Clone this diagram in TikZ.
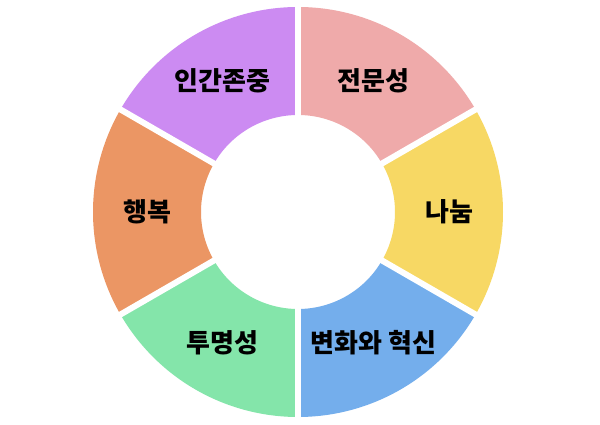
\documentclass[tikz,border=0pt]{standalone}
\usepackage{fontspec}
\newfontfamily\kr{Noto Sans CJK KR}
\definecolor{cpink}{RGB}{239,170,170}
\definecolor{cyellow}{RGB}{247,216,100}
\definecolor{cblue}{RGB}{116,174,236}
\definecolor{cgreen}{RGB}{132,229,170}
\definecolor{corange}{RGB}{235,150,100}
\definecolor{cpurple}{RGB}{204,139,242}
\tikzset{
  lbl/.style={font=\kr\bfseries\fontsize{26}{30}\selectfont, text=black, inner sep=0pt},
  gapline/.style={draw=white, line width=6pt}
}
\begin{document}
\begin{tikzpicture}[x=1pt,y=1pt]
\useasboundingbox (0,0) rectangle (600,425);
\fill[white] (0,0) rectangle (600,425);
\begin{scope}[shift={(298,213)}]
\foreach \a/\b/\c in {90/30/cpink, 30/-30/cyellow, -30/-90/cblue, -90/-150/cgreen, -150/-210/corange, 150/90/cpurple}{
  \fill[\c] (\a:205) arc[start angle=\a, end angle=\b, radius=205] -- (\b:97) arc[start angle=\b, end angle=\a, radius=97] -- cycle;
}
\foreach \a in {90,30,-30,-90,-150,150}{
  \draw[gapline] (\a:90) -- (\a:212);
}
\node[lbl] (s1) at (60:151) {전문성};
\node[lbl] (s2) at (0:151) {나눔};
\node[lbl] (s3) at (-60:151) {변화와 혁신};
\node[lbl] (s4) at (-120:151) {투명성};
\node[lbl] (s5) at (180:151) {행복};
\node[lbl] (s6) at (120:151) {인간존중};
\end{scope}
\end{tikzpicture}
\end{document}
